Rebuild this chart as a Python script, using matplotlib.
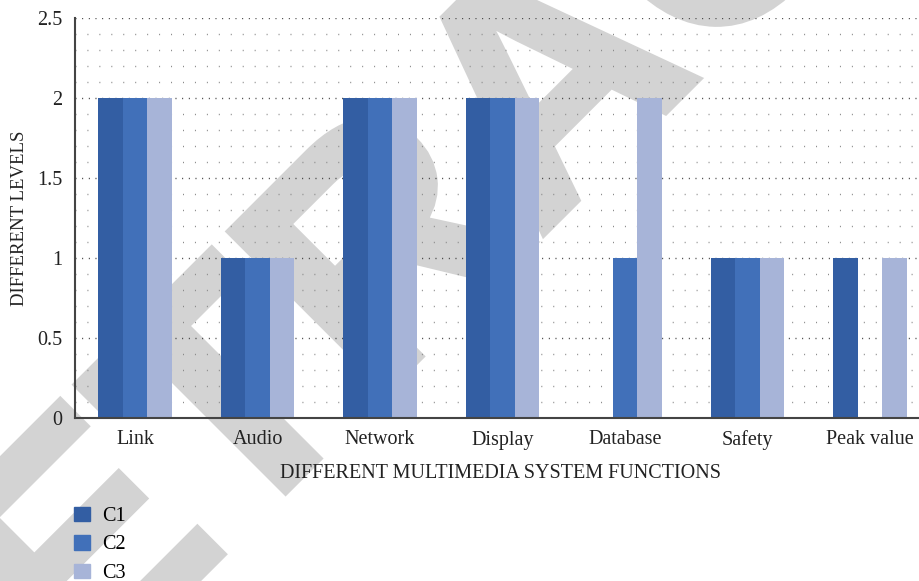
import numpy as np
import matplotlib.pyplot as plt
import matplotlib.patheffects as pe
from matplotlib.patches import Patch

functions = ['Link', 'Audio', 'Network', 'Display', 'Database', 'Safety', 'Peak value']
c1 = [2, 1, 2, 2, 0, 1, 1]
c2 = [2, 1, 2, 2, 1, 1, 0]
c3 = [2, 1, 2, 2, 2, 1, 1]
series = ['C1', 'C2', 'C3']
colors = ['#335ea3', '#4170b9', '#a7b4d8']

plt.rcParams['font.family'] = 'Liberation Serif'

fig = plt.figure(figsize=(9.19, 5.81), dpi=100)

ax = fig.add_axes([75 / 919, 1 - 418 / 581, 1 - 75 / 919, 400 / 581])
ax.patch.set_alpha(0)

# grey watermark, under the grid and bars
wm = ax.text(-0.095, -0.488, 'RETRACTED', transform=fig.transFigure, fontsize=234,
             family='Liberation Sans', weight='bold', color='#d3d3d3', rotation=45,
             rotation_mode='anchor', ha='left', va='baseline', zorder=0.5, clip_on=False)
wm.set_path_effects([pe.withStroke(linewidth=5, foreground='#d3d3d3', joinstyle='miter')])

x = np.arange(len(functions))
w = 0.2
for i, vals in enumerate([c1, c2, c3]):
    ax.bar(x + (i - 1) * w, vals, width=w, color=colors[i], label=series[i], zorder=3)

ax.set_xlim(-0.49, 6.4)
ax.set_ylim(0, 2.5)
ax.set_yticks([0, 0.5, 1, 1.5, 2, 2.5])
ax.set_yticklabels(['0', '0.5', '1', '1.5', '2', '2.5'])
ax.set_yticks(np.arange(0, 2.51, 0.1), minor=True)
ax.set_xticks(x)
ax.set_xticklabels(functions)
ax.tick_params(axis='both', which='both', length=0, labelsize=14.5, colors='#222222')
ax.tick_params(axis='x', pad=9)
ax.tick_params(axis='y', pad=9)

ax.grid(axis='y', which='minor', color='#888888', linewidth=1, linestyle=(0, (0.7, 7.9)), zorder=1)
ax.grid(axis='y', which='major', color='#333333', linewidth=1, linestyle=(0, (0.7, 4.1)), zorder=1)

for s in ['top', 'right']:
    ax.spines[s].set_visible(False)
for s in ['left', 'bottom']:
    ax.spines[s].set_color('#444444')
    ax.spines[s].set_linewidth(1.5)
    ax.spines[s].set_zorder(4)

ax.set_xlabel('DIFFERENT MULTIMEDIA SYSTEM FUNCTIONS', fontsize=14.5, color='#222222')
ax.set_ylabel('DIFFERENT LEVELS', fontsize=13.5, color='#222222')
ax.xaxis.set_label_coords((500 - 75) / 844, -0.138)
ax.yaxis.set_label_coords(-(75 - 20) / 844, 0.5)
ax.yaxis.label.set_va('center')
ax.xaxis.label.set_va('center')

handles = [Patch(color=colors[i], label=series[i]) for i in range(3)]
fig.legend(handles=handles, loc='upper left', bbox_to_anchor=(0.081, 0.128), frameon=False,
           fontsize=14.5, handlelength=0.75, handleheight=0.75, handletextpad=0.6,
           labelspacing=0.45, borderaxespad=0, borderpad=0)

fig.savefig('out.png', dpi=100)
